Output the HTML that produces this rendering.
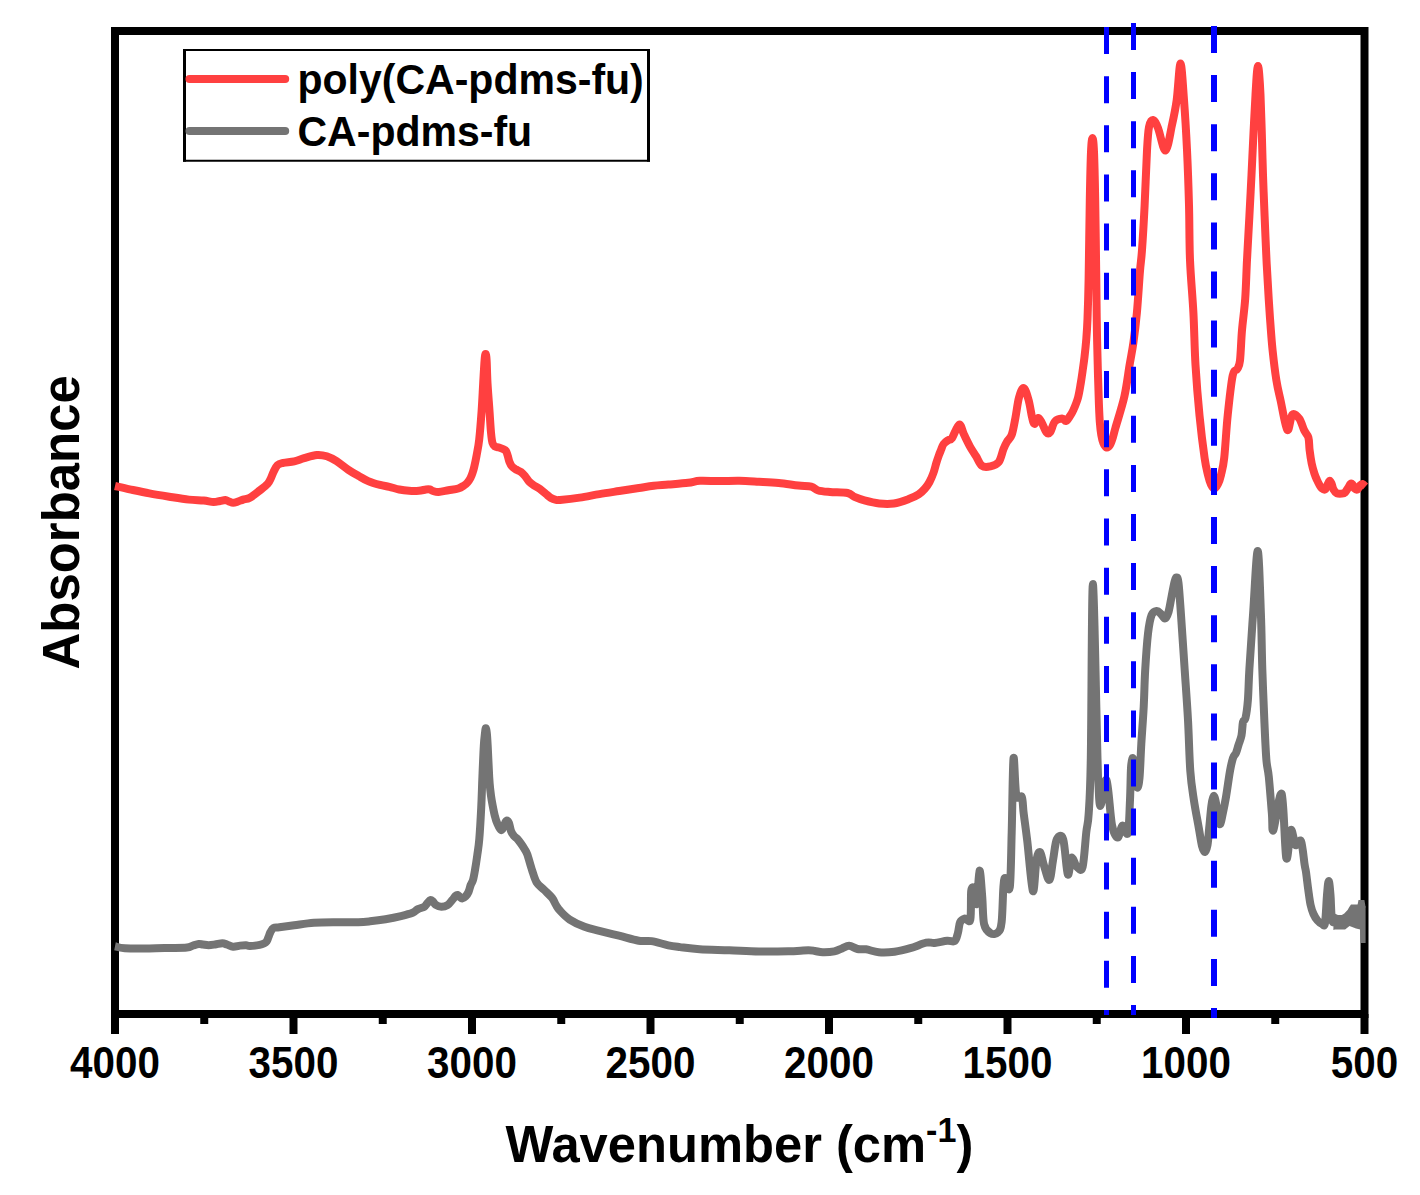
<!DOCTYPE html>
<html><head><meta charset="utf-8"><style>
html,body{margin:0;padding:0;background:#fff;}
body{width:1420px;height:1195px;overflow:hidden;}
svg{display:block;}
text{font-family:"Liberation Sans",sans-serif;font-weight:bold;fill:#000;}
</style></head><body>
<svg width="1420" height="1195" viewBox="0 0 1420 1195">
<rect width="1420" height="1195" fill="#fff"/>
<rect x="115" y="31" width="1249.5" height="983" fill="none" stroke="#000" stroke-width="8"/>
<line x1="115.00" y1="1014" x2="115.00" y2="1034" stroke="#000" stroke-width="8"/>
<text transform="translate(115.00,1078) scale(0.92,1)" text-anchor="middle" font-size="43.9">4000</text>
<line x1="293.50" y1="1014" x2="293.50" y2="1034" stroke="#000" stroke-width="8"/>
<text transform="translate(293.50,1078) scale(0.92,1)" text-anchor="middle" font-size="43.9">3500</text>
<line x1="472.00" y1="1014" x2="472.00" y2="1034" stroke="#000" stroke-width="8"/>
<text transform="translate(472.00,1078) scale(0.92,1)" text-anchor="middle" font-size="43.9">3000</text>
<line x1="650.50" y1="1014" x2="650.50" y2="1034" stroke="#000" stroke-width="8"/>
<text transform="translate(650.50,1078) scale(0.92,1)" text-anchor="middle" font-size="43.9">2500</text>
<line x1="829.00" y1="1014" x2="829.00" y2="1034" stroke="#000" stroke-width="8"/>
<text transform="translate(829.00,1078) scale(0.92,1)" text-anchor="middle" font-size="43.9">2000</text>
<line x1="1007.50" y1="1014" x2="1007.50" y2="1034" stroke="#000" stroke-width="8"/>
<text transform="translate(1007.50,1078) scale(0.92,1)" text-anchor="middle" font-size="43.9">1500</text>
<line x1="1186.00" y1="1014" x2="1186.00" y2="1034" stroke="#000" stroke-width="8"/>
<text transform="translate(1186.00,1078) scale(0.92,1)" text-anchor="middle" font-size="43.9">1000</text>
<line x1="1364.50" y1="1014" x2="1364.50" y2="1034" stroke="#000" stroke-width="8"/>
<text transform="translate(1364.50,1078) scale(0.92,1)" text-anchor="middle" font-size="43.9">500</text>
<line x1="204.25" y1="1014" x2="204.25" y2="1024" stroke="#000" stroke-width="8"/>
<line x1="382.75" y1="1014" x2="382.75" y2="1024" stroke="#000" stroke-width="8"/>
<line x1="561.25" y1="1014" x2="561.25" y2="1024" stroke="#000" stroke-width="8"/>
<line x1="739.75" y1="1014" x2="739.75" y2="1024" stroke="#000" stroke-width="8"/>
<line x1="918.25" y1="1014" x2="918.25" y2="1024" stroke="#000" stroke-width="8"/>
<line x1="1096.75" y1="1014" x2="1096.75" y2="1024" stroke="#000" stroke-width="8"/>
<line x1="1275.25" y1="1014" x2="1275.25" y2="1024" stroke="#000" stroke-width="8"/>
<path d="M115.00,486.00 C117.45,486.55 123.97,488.07 129.70,489.30 C135.43,490.53 142.82,492.17 149.40,493.40 C155.98,494.63 162.62,495.67 169.20,496.70 C175.78,497.73 183.15,498.95 188.90,499.60 C194.65,500.25 199.60,500.18 203.70,500.60 C207.80,501.02 210.78,502.03 213.50,502.10 C216.22,502.17 218.02,501.35 220.00,501.00 C221.98,500.65 223.90,499.92 225.40,500.00 C226.90,500.08 227.70,501.03 229.00,501.50 C230.30,501.97 231.70,502.80 233.20,502.80 C234.70,502.80 236.35,502.03 238.00,501.50 C239.65,500.97 241.12,500.23 243.10,499.60 C245.08,498.97 247.13,499.22 249.90,497.70 C252.67,496.18 256.75,492.80 259.70,490.50 C262.65,488.20 265.72,485.98 267.60,483.90 C269.48,481.82 270.02,479.98 271.00,478.00 C271.98,476.02 272.42,474.15 273.50,472.00 C274.58,469.85 275.85,466.62 277.50,465.10 C279.15,463.58 280.62,463.52 283.40,462.90 C286.18,462.28 290.75,462.18 294.20,461.40 C297.65,460.62 300.32,459.27 304.10,458.20 C307.88,457.13 313.12,455.32 316.90,455.00 C320.68,454.68 323.52,455.27 326.80,456.30 C330.08,457.33 333.00,458.95 336.60,461.20 C340.20,463.45 344.78,467.38 348.40,469.80 C352.02,472.22 355.00,473.82 358.30,475.70 C361.60,477.58 364.58,479.57 368.20,481.10 C371.82,482.63 376.48,483.95 380.00,484.90 C383.52,485.85 386.10,486.03 389.30,486.80 C392.50,487.57 395.92,488.83 399.20,489.50 C402.48,490.17 405.72,490.58 409.00,490.80 C412.28,491.02 416.07,491.02 418.90,490.80 C421.73,490.58 424.15,489.72 426.00,489.50 C427.85,489.28 428.83,489.25 430.00,489.50 C431.17,489.75 431.57,490.58 433.00,491.00 C434.43,491.42 436.03,492.12 438.60,492.00 C441.17,491.88 445.12,490.88 448.40,490.30 C451.68,489.72 455.70,489.30 458.30,488.50 C460.90,487.70 462.47,486.50 464.00,485.50 C465.53,484.50 466.42,483.75 467.50,482.50 C468.58,481.25 469.67,479.58 470.50,478.00 C471.33,476.42 471.88,474.83 472.50,473.00 C473.12,471.17 473.53,469.83 474.20,467.00 C474.87,464.17 475.67,460.57 476.50,456.00 C477.33,451.43 478.35,447.10 479.20,439.60 C480.05,432.10 480.93,420.43 481.60,411.00 C482.27,401.57 482.70,391.50 483.20,383.00 C483.70,374.50 484.20,364.83 484.60,360.00 C485.00,355.17 485.27,354.00 485.60,354.00 C485.93,354.00 486.28,355.17 486.60,360.00 C486.92,364.83 487.02,374.50 487.50,383.00 C487.98,391.50 488.92,402.75 489.50,411.00 C490.08,419.25 490.50,427.17 491.00,432.50 C491.50,437.83 491.83,440.67 492.50,443.00 C493.17,445.33 493.92,445.75 495.00,446.50 C496.08,447.25 497.67,447.08 499.00,447.50 C500.33,447.92 501.83,448.42 503.00,449.00 C504.17,449.58 505.20,449.83 506.00,451.00 C506.80,452.17 507.22,454.17 507.80,456.00 C508.38,457.83 508.80,460.25 509.50,462.00 C510.20,463.75 510.92,465.25 512.00,466.50 C513.08,467.75 514.50,468.58 516.00,469.50 C517.50,470.42 519.50,470.92 521.00,472.00 C522.50,473.08 523.67,474.42 525.00,476.00 C526.33,477.58 527.50,479.92 529.00,481.50 C530.50,483.08 532.17,484.25 534.00,485.50 C535.83,486.75 538.00,487.58 540.00,489.00 C542.00,490.42 544.17,492.50 546.00,494.00 C547.83,495.50 549.33,497.03 551.00,498.00 C552.67,498.97 554.50,499.48 556.00,499.80 C557.50,500.12 556.05,500.27 560.00,499.90 C563.95,499.53 573.13,498.57 579.70,497.60 C586.27,496.63 592.82,495.20 599.40,494.10 C605.98,493.00 612.62,492.02 619.20,491.00 C625.78,489.98 633.15,488.87 638.90,488.00 C644.65,487.13 648.78,486.37 653.70,485.80 C658.62,485.23 662.65,485.10 668.40,484.60 C674.15,484.10 682.95,483.43 688.20,482.80 C693.45,482.17 694.67,481.08 699.90,480.80 C705.13,480.52 713.03,481.10 719.60,481.10 C726.17,481.10 732.73,480.68 739.30,480.80 C745.87,480.92 752.43,481.42 759.00,481.80 C765.57,482.18 772.13,482.47 778.70,483.10 C785.27,483.73 792.97,485.00 798.40,485.60 C803.83,486.20 808.00,485.88 811.30,486.70 C814.60,487.52 815.08,489.62 818.20,490.50 C821.32,491.38 825.10,491.58 830.00,492.00 C834.90,492.42 843.52,492.18 847.60,493.00 C851.68,493.82 851.70,495.67 854.50,496.90 C857.30,498.13 860.28,499.30 864.40,500.40 C868.52,501.50 874.28,502.98 879.20,503.50 C884.12,504.02 888.98,504.23 893.90,503.50 C898.82,502.77 904.58,500.62 908.70,499.10 C912.82,497.58 915.88,496.17 918.60,494.40 C921.32,492.63 923.18,490.57 925.00,488.50 C926.82,486.43 928.10,484.58 929.50,482.00 C930.90,479.42 932.27,476.17 933.40,473.00 C934.53,469.83 935.37,466.00 936.30,463.00 C937.23,460.00 938.22,457.17 939.00,455.00 C939.78,452.83 940.23,451.83 941.00,450.00 C941.77,448.17 942.37,445.67 943.60,444.00 C944.83,442.33 947.00,440.97 948.40,440.00 C949.80,439.03 950.20,440.78 952.00,438.20 C953.80,435.62 957.20,425.10 959.20,424.50 C961.20,423.90 962.20,430.92 964.00,434.60 C965.80,438.28 968.00,443.00 970.00,446.60 C972.00,450.20 974.02,453.00 976.00,456.20 C977.98,459.40 979.52,464.10 981.90,465.80 C984.28,467.50 987.50,467.00 990.30,466.40 C993.10,465.80 996.50,465.10 998.70,462.20 C1000.90,459.30 1002.12,452.40 1003.50,449.00 C1004.88,445.60 1005.62,444.20 1007.00,441.80 C1008.38,439.40 1010.40,438.58 1011.80,434.60 C1013.20,430.62 1014.20,424.08 1015.40,417.90 C1016.60,411.72 1017.60,402.48 1019.00,397.50 C1020.40,392.52 1022.20,387.58 1023.80,388.00 C1025.40,388.42 1027.20,395.02 1028.60,400.00 C1030.00,404.98 1031.20,413.92 1032.20,417.90 C1033.20,421.88 1033.60,423.90 1034.60,423.90 C1035.60,423.90 1037.00,418.10 1038.20,417.90 C1039.40,417.70 1040.42,420.30 1041.80,422.70 C1043.18,425.10 1045.12,430.70 1046.50,432.30 C1047.88,433.90 1048.70,434.10 1050.10,432.30 C1051.50,430.50 1052.90,423.80 1054.90,421.50 C1056.90,419.20 1060.25,418.58 1062.10,418.50 C1063.95,418.42 1064.68,421.42 1066.00,421.00 C1067.32,420.58 1068.77,417.83 1070.00,416.00 C1071.23,414.17 1072.07,413.05 1073.40,410.00 C1074.73,406.95 1076.77,402.20 1078.00,397.70 C1079.23,393.20 1080.03,387.45 1080.80,383.00 C1081.57,378.55 1081.98,375.33 1082.60,371.00 C1083.22,366.67 1083.88,362.33 1084.50,357.00 C1085.12,351.67 1085.80,345.33 1086.30,339.00 C1086.80,332.67 1087.12,328.83 1087.50,319.00 C1087.88,309.17 1088.22,299.83 1088.60,280.00 C1088.98,260.17 1089.40,221.33 1089.80,200.00 C1090.20,178.67 1090.55,162.33 1091.00,152.00 C1091.45,141.67 1092.00,138.00 1092.50,138.00 C1093.00,138.00 1093.55,141.67 1094.00,152.00 C1094.45,162.33 1094.82,178.67 1095.20,200.00 C1095.58,221.33 1096.02,258.33 1096.30,280.00 C1096.58,301.67 1096.62,314.00 1096.90,330.00 C1097.18,346.00 1097.67,363.72 1098.00,376.00 C1098.33,388.28 1098.60,396.03 1098.90,403.70 C1099.20,411.37 1099.40,416.78 1099.80,422.00 C1100.20,427.22 1100.68,431.42 1101.30,435.00 C1101.92,438.58 1102.62,441.42 1103.50,443.50 C1104.38,445.58 1105.52,447.25 1106.60,447.50 C1107.68,447.75 1108.93,446.75 1110.00,445.00 C1111.07,443.25 1112.10,439.83 1113.00,437.00 C1113.90,434.17 1113.50,434.77 1115.40,428.00 C1117.30,421.23 1122.03,406.90 1124.40,396.40 C1126.77,385.90 1128.08,374.07 1129.60,365.00 C1131.12,355.93 1132.28,350.72 1133.50,342.00 C1134.72,333.28 1135.82,324.53 1136.90,312.70 C1137.98,300.87 1139.15,281.45 1140.00,271.00 C1140.85,260.55 1141.23,260.88 1142.00,250.00 C1142.77,239.12 1143.77,222.28 1144.60,205.70 C1145.43,189.12 1146.27,163.62 1147.00,150.50 C1147.73,137.38 1148.00,132.08 1149.00,127.00 C1150.00,121.92 1151.50,119.83 1153.00,120.00 C1154.50,120.17 1155.92,122.92 1158.00,128.00 C1160.08,133.08 1163.17,151.00 1165.50,150.50 C1167.83,150.00 1170.13,133.42 1172.00,125.00 C1173.87,116.58 1175.28,110.23 1176.70,100.00 C1178.12,89.77 1179.28,63.60 1180.50,63.60 C1181.72,63.60 1182.92,85.60 1184.00,100.00 C1185.08,114.40 1186.17,132.50 1187.00,150.00 C1187.83,167.50 1188.50,186.67 1189.00,205.00 C1189.50,223.33 1189.27,242.05 1190.00,260.00 C1190.73,277.95 1192.48,295.20 1193.40,312.70 C1194.32,330.20 1194.48,347.88 1195.50,365.00 C1196.52,382.12 1197.98,399.90 1199.50,415.40 C1201.02,430.90 1203.18,448.07 1204.60,458.00 C1206.02,467.93 1206.93,470.58 1208.00,475.00 C1209.07,479.42 1209.95,482.25 1211.00,484.50 C1212.05,486.75 1213.13,488.58 1214.30,488.50 C1215.47,488.42 1216.88,486.25 1218.00,484.00 C1219.12,481.75 1219.97,479.33 1221.00,475.00 C1222.03,470.67 1223.08,467.93 1224.20,458.00 C1225.32,448.07 1226.28,429.15 1227.70,415.40 C1229.12,401.65 1231.10,383.23 1232.70,375.50 C1234.30,367.77 1236.08,371.52 1237.30,369.00 C1238.52,366.48 1239.22,366.87 1240.00,360.40 C1240.78,353.93 1241.13,340.47 1242.00,330.20 C1242.87,319.93 1244.37,310.50 1245.20,298.80 C1246.03,287.10 1246.30,273.80 1247.00,260.00 C1247.70,246.20 1248.65,230.17 1249.40,216.00 C1250.15,201.83 1250.82,188.83 1251.50,175.00 C1252.18,161.17 1252.83,146.33 1253.50,133.00 C1254.17,119.67 1254.95,104.83 1255.50,95.00 C1256.05,85.17 1256.38,78.83 1256.80,74.00 C1257.22,69.17 1257.60,66.00 1258.00,66.00 C1258.40,66.00 1258.78,69.17 1259.20,74.00 C1259.62,78.83 1260.07,85.17 1260.50,95.00 C1260.93,104.83 1261.38,119.67 1261.80,133.00 C1262.22,146.33 1262.53,161.17 1263.00,175.00 C1263.47,188.83 1264.02,201.83 1264.60,216.00 C1265.18,230.17 1265.82,246.20 1266.50,260.00 C1267.18,273.80 1268.03,287.97 1268.70,298.80 C1269.37,309.63 1269.85,316.42 1270.50,325.00 C1271.15,333.58 1271.62,341.07 1272.60,350.30 C1273.58,359.53 1275.07,372.03 1276.40,380.40 C1277.73,388.77 1278.78,392.23 1280.60,400.50 C1282.42,408.77 1285.35,427.65 1287.30,430.00 C1289.25,432.35 1290.30,416.50 1292.30,414.60 C1294.30,412.70 1297.30,415.93 1299.30,418.60 C1301.30,421.27 1302.78,427.45 1304.30,430.60 C1305.82,433.75 1307.52,434.27 1308.40,437.50 C1309.28,440.73 1309.05,445.67 1309.60,450.00 C1310.15,454.33 1310.90,459.58 1311.70,463.50 C1312.50,467.42 1313.52,470.75 1314.40,473.50 C1315.28,476.25 1316.15,478.08 1317.00,480.00 C1317.85,481.92 1318.67,483.58 1319.50,485.00 C1320.33,486.42 1321.08,487.75 1322.00,488.50 C1322.92,489.25 1324.17,489.92 1325.00,489.50 C1325.83,489.08 1326.27,487.42 1327.00,486.00 C1327.73,484.58 1328.65,481.42 1329.40,481.00 C1330.15,480.58 1330.82,482.08 1331.50,483.50 C1332.18,484.92 1332.58,487.87 1333.50,489.50 C1334.42,491.13 1335.58,492.62 1337.00,493.30 C1338.42,493.98 1340.67,493.73 1342.00,493.60 C1343.33,493.47 1344.00,493.43 1345.00,492.50 C1346.00,491.57 1347.08,489.42 1348.00,488.00 C1348.92,486.58 1349.75,484.58 1350.50,484.00 C1351.25,483.42 1351.83,483.75 1352.50,484.50 C1353.17,485.25 1353.67,487.67 1354.50,488.50 C1355.33,489.33 1356.58,490.00 1357.50,489.50 C1358.42,489.00 1359.17,486.42 1360.00,485.50 C1360.83,484.58 1361.58,483.83 1362.50,484.00 C1363.42,484.17 1365.00,486.08 1365.50,486.50" fill="none" stroke="#ff4040" stroke-width="8" stroke-linejoin="round" stroke-linecap="butt"/>
<path d="M115.00,946.30 C116.63,946.62 119.07,947.85 124.80,948.20 C130.53,948.55 142.00,948.43 149.40,948.40 C156.80,948.37 162.95,948.15 169.20,948.00 C175.45,947.85 182.93,947.92 186.90,947.50 C190.87,947.08 191.03,946.08 193.00,945.50 C194.97,944.92 197.03,944.17 198.70,944.00 C200.37,943.83 201.35,944.30 203.00,944.50 C204.65,944.70 206.60,945.20 208.60,945.20 C210.60,945.20 212.70,944.83 215.00,944.50 C217.30,944.17 220.40,943.20 222.40,943.20 C224.40,943.20 225.20,943.92 227.00,944.50 C228.80,945.08 231.03,946.52 233.20,946.70 C235.37,946.88 237.87,945.85 240.00,945.60 C242.13,945.35 244.35,945.13 246.00,945.20 C247.65,945.27 247.62,946.05 249.90,946.00 C252.18,945.95 257.35,945.32 259.70,944.90 C262.05,944.48 262.85,944.07 264.00,943.50 C265.15,942.93 265.85,942.58 266.60,941.50 C267.35,940.42 267.85,938.58 268.50,937.00 C269.15,935.42 269.67,933.50 270.50,932.00 C271.33,930.50 272.02,928.78 273.50,928.00 C274.98,927.22 275.95,927.75 279.40,927.30 C282.85,926.85 288.45,926.07 294.20,925.30 C299.95,924.53 306.50,923.22 313.90,922.70 C321.30,922.18 331.20,922.28 338.60,922.20 C346.00,922.12 353.07,922.35 358.30,922.20 C363.53,922.05 365.47,921.80 370.00,921.30 C374.53,920.80 380.33,920.07 385.50,919.20 C390.67,918.33 396.48,917.17 401.00,916.10 C405.52,915.03 409.77,913.97 412.60,912.80 C415.43,911.63 416.07,910.10 418.00,909.10 C419.93,908.10 422.62,907.82 424.20,906.80 C425.78,905.78 426.47,904.13 427.50,903.00 C428.53,901.87 429.48,900.25 430.40,900.00 C431.32,899.75 432.10,900.68 433.00,901.50 C433.90,902.32 434.42,904.02 435.80,904.90 C437.18,905.78 439.35,906.75 441.30,906.80 C443.25,906.85 445.70,906.30 447.50,905.20 C449.30,904.10 450.77,901.73 452.10,900.20 C453.43,898.67 454.60,896.87 455.50,896.00 C456.40,895.13 456.75,894.83 457.50,895.00 C458.25,895.17 459.22,896.43 460.00,897.00 C460.78,897.57 461.28,898.48 462.20,898.40 C463.12,898.32 464.45,897.57 465.50,896.50 C466.55,895.43 467.63,893.92 468.50,892.00 C469.37,890.08 469.95,887.00 470.70,885.00 C471.45,883.00 472.28,882.50 473.00,880.00 C473.72,877.50 474.28,874.17 475.00,870.00 C475.72,865.83 476.58,860.17 477.30,855.00 C478.02,849.83 478.65,846.83 479.30,839.00 C479.95,831.17 480.68,818.33 481.20,808.00 C481.72,797.67 481.97,787.33 482.40,777.00 C482.83,766.67 483.37,753.33 483.80,746.00 C484.23,738.67 484.67,735.95 485.00,733.00 C485.33,730.05 485.50,728.30 485.80,728.30 C486.10,728.30 486.48,730.05 486.80,733.00 C487.12,735.95 487.30,738.67 487.70,746.00 C488.10,753.33 488.77,769.67 489.20,777.00 C489.63,784.33 489.88,786.13 490.30,790.00 C490.72,793.87 490.95,795.92 491.70,800.20 C492.45,804.48 493.83,811.73 494.80,815.70 C495.77,819.67 496.47,821.62 497.50,824.00 C498.53,826.38 500.00,829.50 501.00,830.00 C502.00,830.50 502.75,828.33 503.50,827.00 C504.25,825.67 504.88,823.08 505.50,822.00 C506.12,820.92 506.62,820.33 507.20,820.50 C507.78,820.67 508.37,821.25 509.00,823.00 C509.63,824.75 510.17,828.83 511.00,831.00 C511.83,833.17 513.00,834.75 514.00,836.00 C515.00,837.25 515.83,837.23 517.00,838.50 C518.17,839.77 519.75,841.85 521.00,843.60 C522.25,845.35 523.45,847.20 524.50,849.00 C525.55,850.80 526.05,850.92 527.30,854.40 C528.55,857.88 530.45,865.25 532.00,869.90 C533.55,874.55 534.55,878.95 536.60,882.30 C538.65,885.65 541.73,887.42 544.30,890.00 C546.87,892.58 550.05,895.30 552.00,897.80 C553.95,900.30 554.68,902.87 556.00,905.00 C557.32,907.13 557.62,908.17 559.90,910.60 C562.18,913.03 565.60,916.90 569.70,919.60 C573.80,922.30 579.57,924.93 584.50,926.80 C589.43,928.67 593.55,929.32 599.30,930.80 C605.05,932.28 612.43,934.03 619.00,935.70 C625.57,937.37 633.28,939.90 638.70,940.80 C644.12,941.70 646.57,940.35 651.50,941.10 C656.43,941.85 663.55,944.30 668.30,945.30 C673.05,946.30 674.77,946.43 680.00,947.10 C685.23,947.77 691.48,948.77 699.70,949.30 C707.92,949.83 719.43,949.93 729.30,950.30 C739.17,950.67 749.05,951.33 758.90,951.50 C768.75,951.67 780.18,951.50 788.40,951.30 C796.62,951.10 803.77,950.35 808.20,950.30 C812.63,950.25 812.58,950.68 815.00,951.00 C817.42,951.32 819.48,952.13 822.70,952.20 C825.92,952.27 831.08,952.02 834.30,951.40 C837.52,950.78 839.53,949.45 842.00,948.50 C844.47,947.55 846.52,945.62 849.10,945.70 C851.68,945.78 854.68,948.40 857.50,949.00 C860.32,949.60 862.47,948.77 866.00,949.30 C869.53,949.83 873.95,951.80 878.70,952.20 C883.45,952.60 889.23,952.37 894.50,951.70 C899.77,951.03 905.02,949.70 910.30,948.20 C915.58,946.70 922.15,943.58 926.20,942.70 C930.25,941.82 931.08,943.22 934.60,942.90 C938.12,942.58 943.95,941.10 947.30,940.80 C950.65,940.50 952.93,942.40 954.70,941.10 C956.47,939.80 957.00,936.13 957.90,933.00 C958.80,929.87 958.97,924.70 960.10,922.30 C961.23,919.90 963.00,919.07 964.70,918.60 C966.40,918.13 969.22,924.10 970.30,919.50 C971.38,914.90 970.60,896.07 971.20,891.00 C971.80,885.93 972.98,886.95 973.90,889.10 C974.82,891.25 975.77,906.97 976.70,903.90 C977.63,900.83 978.58,871.93 979.50,870.70 C980.42,869.47 981.43,887.60 982.20,896.50 C982.97,905.40 982.72,917.97 984.10,924.10 C985.48,930.23 988.20,931.92 990.50,933.30 C992.80,934.68 996.05,934.23 997.90,932.40 C999.75,930.57 1000.68,929.82 1001.60,922.30 C1002.52,914.78 1002.80,894.67 1003.40,887.30 C1004.00,879.93 1004.13,878.10 1005.20,878.10 C1006.27,878.10 1008.72,894.97 1009.80,887.30 C1010.88,879.63 1011.08,853.58 1011.70,832.10 C1012.32,810.62 1012.73,764.55 1013.50,758.40 C1014.27,752.25 1014.92,788.75 1016.30,795.20 C1017.68,801.65 1020.57,794.03 1021.80,797.10 C1023.03,800.17 1022.78,806.23 1023.70,813.60 C1024.62,820.97 1025.77,828.40 1027.30,841.30 C1028.83,854.20 1031.37,887.93 1032.90,891.00 C1034.43,894.07 1035.28,866.15 1036.50,859.70 C1037.72,853.25 1038.97,851.38 1040.20,852.30 C1041.43,853.22 1042.37,860.60 1043.90,865.20 C1045.43,869.80 1047.87,880.82 1049.40,879.90 C1050.93,878.98 1051.87,866.45 1053.10,859.70 C1054.33,852.95 1055.12,842.78 1056.80,839.40 C1058.48,836.02 1061.37,833.57 1063.20,839.40 C1065.03,845.23 1066.42,871.33 1067.80,874.40 C1069.18,877.47 1069.97,859.03 1071.50,857.80 C1073.03,856.57 1075.15,865.47 1077.00,867.00 C1078.85,868.53 1081.05,872.82 1082.60,867.00 C1084.15,861.18 1085.28,841.00 1086.30,832.10 C1087.32,823.20 1087.95,825.88 1088.70,813.60 C1089.45,801.32 1090.10,796.67 1090.80,758.40 C1091.50,720.13 1091.78,584.00 1092.90,584.00 C1094.02,584.00 1096.60,725.73 1097.50,758.40 C1098.40,791.07 1097.82,772.07 1098.30,780.00 C1098.78,787.93 1099.03,806.00 1100.40,806.00 C1101.77,806.00 1104.57,776.83 1106.50,780.00 C1108.43,783.17 1110.13,815.40 1112.00,825.00 C1113.87,834.60 1115.98,837.50 1117.70,837.60 C1119.42,837.70 1120.60,826.37 1122.30,825.60 C1124.00,824.83 1126.62,837.27 1127.90,833.00 C1129.18,828.73 1129.48,810.83 1130.00,800.00 C1130.52,789.17 1130.58,775.00 1131.00,768.00 C1131.42,761.00 1131.92,758.33 1132.50,758.00 C1133.08,757.67 1133.75,761.17 1134.50,766.00 C1135.25,770.83 1136.17,785.00 1137.00,787.00 C1137.83,789.00 1138.78,785.17 1139.50,778.00 C1140.22,770.83 1140.60,755.83 1141.30,744.00 C1142.00,732.17 1143.05,719.33 1143.70,707.00 C1144.35,694.67 1144.48,682.23 1145.20,670.00 C1145.92,657.77 1146.93,642.77 1148.00,633.60 C1149.07,624.43 1150.13,618.77 1151.60,615.00 C1153.07,611.23 1155.23,611.17 1156.80,611.00 C1158.37,610.83 1159.63,612.75 1161.00,614.00 C1162.37,615.25 1163.75,618.83 1165.00,618.50 C1166.25,618.17 1167.42,615.58 1168.50,612.00 C1169.58,608.42 1170.50,602.00 1171.50,597.00 C1172.50,592.00 1173.67,585.25 1174.50,582.00 C1175.33,578.75 1175.83,577.33 1176.50,577.50 C1177.17,577.67 1177.75,576.75 1178.50,583.00 C1179.25,589.25 1179.97,600.50 1181.00,615.00 C1182.03,629.50 1183.53,652.50 1184.70,670.00 C1185.87,687.50 1187.07,703.17 1188.00,720.00 C1188.93,736.83 1189.33,757.73 1190.30,771.00 C1191.27,784.27 1192.38,790.10 1193.80,799.60 C1195.22,809.10 1197.43,820.27 1198.80,828.00 C1200.17,835.73 1200.98,842.00 1202.00,846.00 C1203.02,850.00 1203.98,852.17 1204.90,852.00 C1205.82,851.83 1206.78,849.00 1207.50,845.00 C1208.22,841.00 1208.53,834.67 1209.20,828.00 C1209.87,821.33 1210.75,810.33 1211.50,805.00 C1212.25,799.67 1212.95,796.33 1213.70,796.00 C1214.45,795.67 1215.20,799.00 1216.00,803.00 C1216.80,807.00 1217.78,816.50 1218.50,820.00 C1219.22,823.50 1219.63,824.83 1220.30,824.00 C1220.97,823.17 1221.55,819.50 1222.50,815.00 C1223.45,810.50 1224.75,804.33 1226.00,797.00 C1227.25,789.67 1228.83,777.50 1230.00,771.00 C1231.17,764.50 1232.00,761.00 1233.00,758.00 C1234.00,755.00 1235.08,755.17 1236.00,753.00 C1236.92,750.83 1237.58,747.90 1238.50,745.00 C1239.42,742.10 1240.75,739.43 1241.50,735.60 C1242.25,731.77 1242.33,724.93 1243.00,722.00 C1243.67,719.07 1244.68,721.67 1245.50,718.00 C1246.32,714.33 1247.25,708.20 1247.90,700.00 C1248.55,691.80 1248.53,683.20 1249.40,668.80 C1250.27,654.40 1251.72,633.23 1253.10,613.60 C1254.48,593.97 1256.40,551.00 1257.70,551.00 C1259.00,551.00 1260.13,593.97 1260.90,613.60 C1261.67,633.23 1261.70,650.40 1262.30,668.80 C1262.90,687.20 1263.82,708.80 1264.50,724.00 C1265.18,739.20 1265.68,751.20 1266.40,760.00 C1267.12,768.80 1267.88,767.87 1268.80,776.80 C1269.72,785.73 1271.13,804.73 1271.90,813.60 C1272.67,822.47 1271.77,833.27 1273.40,830.00 C1275.03,826.73 1279.55,789.33 1281.70,794.00 C1283.85,798.67 1284.77,852.00 1286.30,858.00 C1287.83,864.00 1289.37,832.17 1290.90,830.00 C1292.43,827.83 1293.82,843.13 1295.50,845.00 C1297.18,846.87 1299.47,837.83 1301.00,841.20 C1302.53,844.57 1303.87,860.07 1304.70,865.20 C1305.53,870.33 1305.40,867.87 1306.00,872.00 C1306.60,876.13 1307.53,884.50 1308.30,890.00 C1309.07,895.50 1309.73,901.00 1310.60,905.00 C1311.47,909.00 1312.35,911.42 1313.50,914.00 C1314.65,916.58 1316.08,918.83 1317.50,920.50 C1318.92,922.17 1320.75,923.58 1322.00,924.00 C1323.25,924.42 1324.17,927.83 1325.00,923.00 C1325.83,918.17 1326.38,902.00 1327.00,895.00 C1327.62,888.00 1328.12,881.00 1328.70,881.00 C1329.28,881.00 1329.95,888.50 1330.50,895.00 C1331.05,901.50 1331.08,915.58 1332.00,920.00 C1332.92,924.42 1334.50,921.17 1336.00,921.50 C1337.50,921.83 1339.50,922.08 1341.00,922.00 C1342.50,921.92 1343.83,921.83 1345.00,921.00 C1346.17,920.17 1346.83,918.00 1348.00,917.00 C1349.17,916.00 1350.50,915.50 1352.00,915.00 C1353.50,914.50 1355.67,914.83 1357.00,914.00 C1358.33,913.17 1359.17,911.50 1360.00,910.00 C1360.83,908.50 1361.67,905.83 1362.00,905.00" fill="none" stroke="#747474" stroke-width="8" stroke-linejoin="round" stroke-linecap="butt"/>
<polygon points="1333.4,913 1338,915 1341.8,915 1344.3,913.5 1347.6,910 1349.3,907 1351,904.4 1357.6,904.4 1358.5,900 1364.4,900 1365.6,907 1365.6,943 1361,943 1360.2,929.5 1356,928.6 1349.5,926 1345.1,929.5 1335,929.5 1333.4,930" fill="#747474"/>
<line x1="1106.5" y1="27" x2="1106.5" y2="1015" stroke="#0000ff" stroke-width="5" stroke-dasharray="27 22.15"/>
<line x1="1133.5" y1="23" x2="1133.5" y2="1015" stroke="#0000ff" stroke-width="5" stroke-dasharray="27 22.1"/>
<line x1="1214" y1="26" x2="1214" y2="1018" stroke="#0000ff" stroke-width="6" stroke-dasharray="27 22.1"/>
<line x1="184.5" y1="49" x2="184.5" y2="161.7" stroke="#000" stroke-width="3"/>
<line x1="648.5" y1="49" x2="648.5" y2="161.7" stroke="#000" stroke-width="3"/>
<line x1="183" y1="50" x2="650" y2="50" stroke="#000" stroke-width="2"/>
<line x1="183" y1="160.7" x2="650" y2="160.7" stroke="#000" stroke-width="2"/>
<line x1="189.5" y1="79" x2="285.2" y2="79" stroke="#ff4040" stroke-width="8" stroke-linecap="round"/>
<line x1="189.5" y1="131" x2="285.2" y2="131" stroke="#747474" stroke-width="8" stroke-linecap="round"/>
<text transform="translate(297.5,94) scale(0.977,1)" font-size="42">poly(CA-pdms-fu)</text>
<text transform="translate(297.5,145.6) scale(0.977,1)" font-size="42">CA-pdms-fu</text>
<text transform="translate(739.4,1162) scale(0.975,1)" text-anchor="middle" font-size="52">Wavenumber (cm<tspan dy="-20" font-size="35">-1</tspan><tspan dy="20">)</tspan></text>
<text transform="translate(79,522.3) rotate(-90) scale(0.97,1)" text-anchor="middle" font-size="52.5">Absorbance</text>
</svg></body></html>
